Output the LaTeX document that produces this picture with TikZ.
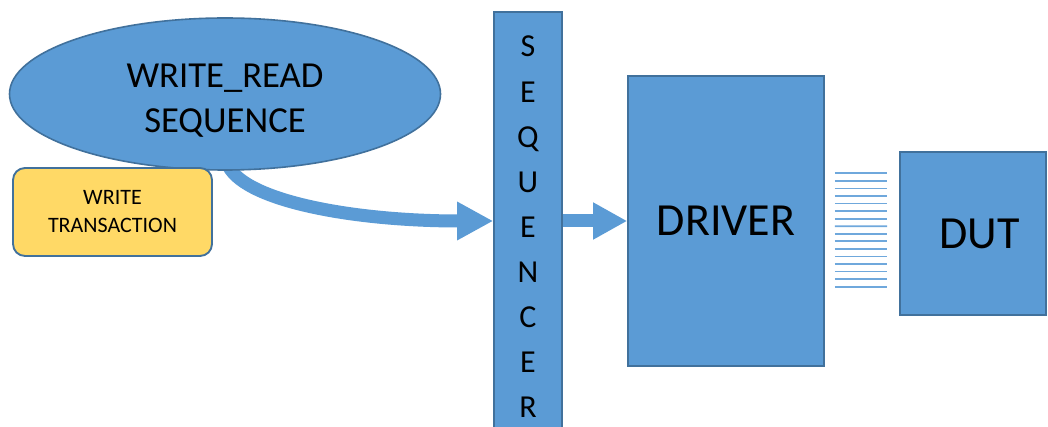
\documentclass[tikz,border=0pt]{standalone}
\usepackage{fontspec}
\setmainfont{Carlito}
\usetikzlibrary{shapes.geometric,arrows.meta,calc,backgrounds}

\definecolor{boxblue}{HTML}{5B9BD5}
\definecolor{edgeblue}{HTML}{41719C}
\definecolor{noteyellow}{HTML}{FFD966}
\definecolor{buslight}{HTML}{6FA8DC}

\tikzset{
  block/.style={rectangle, draw=edgeblue, fill=boxblue, line width=1.2pt, inner sep=0pt},
  seqletter/.style={anchor=base, inner sep=0pt, font=\fontsize{24}{28}\selectfont},
  note/.style={rectangle, rounded corners=9pt, draw=edgeblue, fill=noteyellow, line width=1.4pt,
    align=center, inner sep=0pt, font=\fontsize{16.5}{21}\selectfont},
  flow/.style={draw=boxblue, line width=9.75pt},
  bus/.style={draw=buslight, line width=1.3pt}
}

\begin{document}
\begin{tikzpicture}[x=0.75pt, y=-0.75pt]
  \clip (0,0) rectangle (1048,427);

  % sequence ellipse and its label
  \node[ellipse, draw=edgeblue, fill=boxblue, line width=1.2pt, inner sep=0pt,
        minimum width=431*0.75pt, minimum height=152*0.75pt] (ell) at (225,94) {};
  \node[align=center, inner sep=0pt, font=\fontsize{27.5}{33.75}\selectfont] (elltext) at (225,101)
        {WRITE\_READ\\SEQUENCE};

  % transaction note
  \node[note, minimum width=199*0.75pt, minimum height=88*0.75pt] (trans) at (112.5,212)
        {WRITE\\TRANSACTION};

  % sequencer column (runs past the lower edge)
  \node[block, minimum width=68*0.75pt, minimum height=440*0.75pt] (seq) at (528,232) {};
  \foreach \l [count=\i from 0] in {S,E,Q,U,E,N,C,E,R}
    \node[seqletter] (seq\i) at (528,{57+45.1*\i}) {\l};

  % driver and DUT
  \node[block, minimum width=196*0.75pt, minimum height=290*0.75pt,
        font=\fontsize{34.5}{40}\selectfont] (drv) at (726,221) {DRIVER};
  \node[block, minimum width=146*0.75pt, minimum height=163*0.75pt,
        font=\fontsize{34.5}{40}\selectfont] (dut) at (973,233.5) {\hspace*{10pt}DUT};

  % signal bundle between driver and DUT
  \foreach \k [evaluate=\k as \yy using 173.3+7.56*\k] in {0,...,15}
    \draw[bus] ($(drv.east)+(10,{\yy-221})$) -- ($(dut.west)+(-12,{\yy-233.5})$);

  % white page, then the flow arrows beneath the shapes
  \begin{scope}[on background layer]
    \fill[white] (0,0) rectangle (1048,427);
    \draw[flow, -{Triangle[length=27pt, width=27pt]}]
      ($(ell.south)+(2,-8)$) .. controls (240,200) and (350,221) .. (seq.west |- drv.west);
    \draw[flow, -{Triangle[length=25.5pt, width=26pt]}]
      (seq.east |- drv.west) -- (drv.west);
  \end{scope}
\end{tikzpicture}
\end{document}
